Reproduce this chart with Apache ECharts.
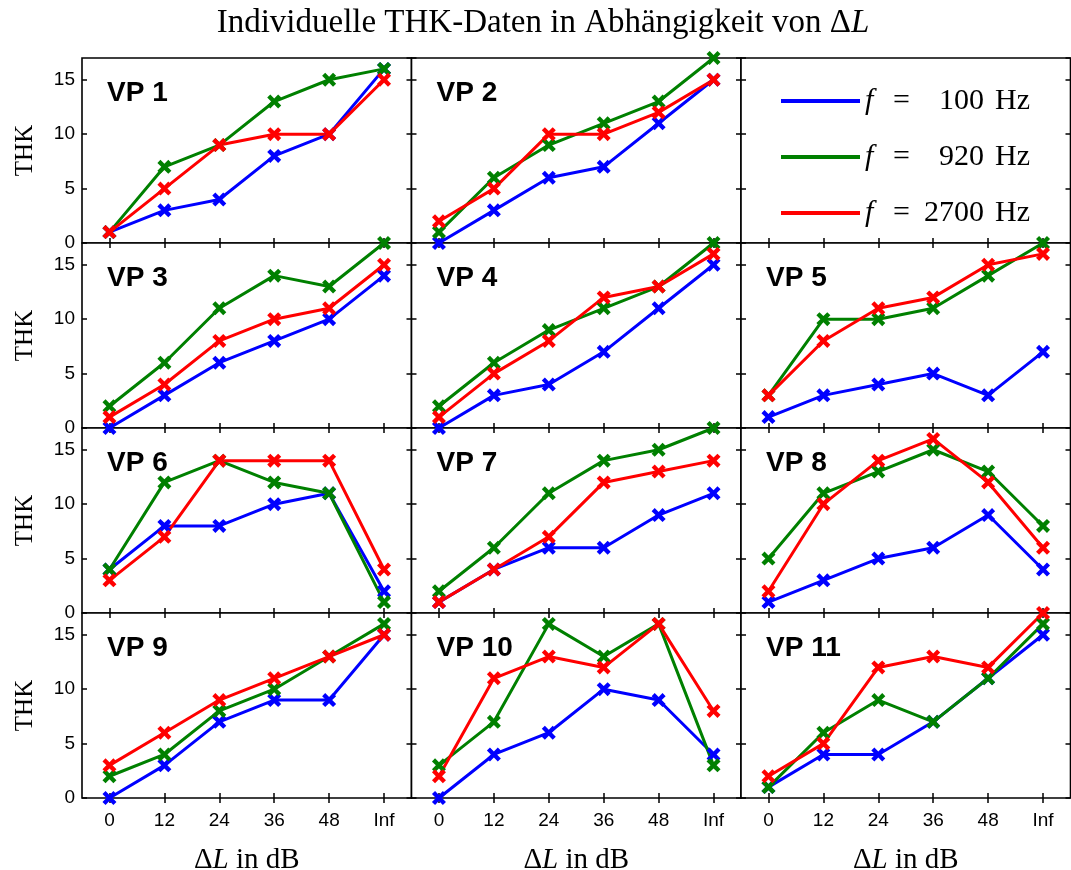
<!DOCTYPE html>
<html>
<head>
<meta charset="utf-8">
<title>Individuelle THK-Daten</title>
<script src="https://cdn.jsdelivr.net/npm/echarts@6/dist/echarts.min.js"></script>
<style>
  html, body { margin: 0; padding: 0; background: #fff; }
  #chart { width: 1071px; height: 870px; }
</style>
</head>
<body>
<div id="chart"></div>
<script>
// Level differences (x categories) and the three test frequencies
const categories = ['0', '12', '24', '36', '48', 'Inf'];
const freqs = ['100', '920', '2700'];
const subjects = ['VP 1', 'VP 2', 'VP 3', 'VP 4', 'VP 5', 'VP 6', 'VP 7', 'VP 8', 'VP 9', 'VP 10', 'VP 11'];
const yTicks = [0, 5, 10, 15];

// THK per subject, one array per frequency
const thk100 = [
  [1, 3, 4, 8, 10, 16],
  [0, 3, 6, 7, 11, 15],
  [0, 3, 6, 8, 10, 14],
  [0, 3, 4, 7, 11, 15],
  [1, 3, 4, 5, 3, 7],
  [4, 8, 8, 10, 11, 2],
  [1, 4, 6, 6, 9, 11],
  [1, 3, 5, 6, 9, 4],
  [0, 3, 7, 9, 9, 15],
  [0, 4, 6, 10, 9, 4],
  [1, 4, 4, 7, 11, 15]
];
const thk920 = [
  [1, 7, 9, 13, 15, 16],
  [1, 6, 9, 11, 13, 17],
  [2, 6, 11, 14, 13, 17],
  [2, 6, 9, 11, 13, 17],
  [3, 10, 10, 11, 14, 17],
  [4, 12, 14, 12, 11, 1],
  [2, 6, 11, 14, 15, 17],
  [5, 11, 13, 15, 13, 8],
  [2, 4, 8, 10, 13, 16],
  [3, 7, 16, 13, 16, 3],
  [1, 6, 9, 7, 11, 16]
];
const thk2700 = [
  [1, 5, 9, 10, 10, 15],
  [2, 5, 10, 10, 12, 15],
  [1, 4, 8, 10, 11, 15],
  [1, 5, 8, 12, 13, 16],
  [3, 8, 11, 12, 15, 16],
  [3, 7, 14, 14, 14, 4],
  [1, 4, 7, 12, 13, 14],
  [2, 10, 14, 16, 12, 6],
  [3, 6, 9, 11, 13, 15],
  [2, 11, 13, 12, 16, 8],
  [2, 5, 12, 13, 12, 17]
];

const seriesData = [thk100, thk920, thk2700];
const colors = ['#0000ff', '#008000', '#ff0000'];
const seriesNames = freqs.map(f => 'f = ' + f + ' Hz');

// panel layout: 4 rows x 3 columns, the third panel holds the legend
const nRows = 4, nCols = 3;
const gLeft = 82, gTop = 58, cellW = 329.5, cellH = 185;
const serif = '"Liberation Serif", "DejaVu Serif", serif';
const sans = '"Liberation Sans", Arial, sans-serif';

// x-shaped marker
const crossPath = 'path://M0,2.2L2.2,0L5,2.8L7.8,0L10,2.2L7.2,5L10,7.8L7.8,10L5,7.2L2.2,10L0,7.8L2.8,5Z';

const grids = [], xAxes = [], yAxes = [], series = [], graphics = [];
const tickStyle = { show: true, inside: true, length: 5, lineStyle: { color: '#000', width: 1.5 } };

for (let g = 0; g < nRows * nCols; g++) {
  const r = Math.floor(g / nCols), c = g % nCols;
  grids.push({
    left: gLeft + c * cellW, top: gTop + r * cellH, width: cellW, height: cellH,
    outerBoundsMode: 'none', containLabel: false,
    show: true, borderColor: '#000', borderWidth: 1.6, backgroundColor: '#fff'
  });
  const bottomRow = r === nRows - 1;
  xAxes.push({
    gridIndex: g, type: 'category', data: categories, boundaryGap: true, position: 'bottom',
    axisLine: { show: false },
    axisTick: Object.assign({ alignWithLabel: true }, tickStyle),
    axisLabel: { show: bottomRow, color: '#000', fontFamily: sans, fontSize: 19, margin: 13 },
    splitLine: { show: false },
    name: bottomRow ? '{d|Δ}{i|L}{d| in dB}' : '',
    nameLocation: 'middle', nameGap: 48,
    nameTextStyle: {
      rich: {
        d: { fontFamily: serif, fontSize: 29, color: '#000' },
        i: { fontFamily: serif, fontSize: 29, fontStyle: 'italic', color: '#000' }
      }
    }
  });
  xAxes.push({
    gridIndex: g, type: 'category', data: categories, boundaryGap: true, position: 'top',
    axisLine: { show: false },
    axisTick: Object.assign({ alignWithLabel: true }, tickStyle),
    axisLabel: { show: false }, splitLine: { show: false }
  });
  const leftCol = c === 0;
  yAxes.push({
    gridIndex: g, type: 'value', min: 0, max: 17, interval: 5, position: 'left',
    axisLine: { show: false }, axisTick: tickStyle, splitLine: { show: false },
    axisLabel: {
      show: leftCol, color: '#000', fontFamily: sans, fontSize: 19, margin: 7,
      showMaxLabel: false,
      formatter: v => (yTicks.indexOf(v) >= 0 ? String(v) : '')
    },
    name: leftCol ? 'THK' : '', nameLocation: 'middle', nameGap: 44,
    nameTextStyle: { fontFamily: serif, fontSize: 25, color: '#000' }
  });
  yAxes.push({
    gridIndex: g, type: 'value', min: 0, max: 17, interval: 5, position: 'right',
    axisLine: { show: false }, axisTick: tickStyle, splitLine: { show: false },
    axisLabel: { show: false }
  });
}

// data panels, skipping the legend slot
const panelGrid = [0, 1, 3, 4, 5, 6, 7, 8, 9, 10, 11];
subjects.forEach((name, p) => {
  const g = panelGrid[p];
  for (let k = 0; k < 3; k++) {
    series.push({
      name: seriesNames[k], type: 'line',
      xAxisIndex: 2 * g, yAxisIndex: 2 * g,
      data: seriesData[k][p],
      clip: false,
      symbol: crossPath, symbolSize: 14, symbolKeepAspect: true,
      lineStyle: { color: colors[k], width: 3 },
      itemStyle: { color: colors[k] },
      emphasis: { disabled: true },
      animation: false
    });
  }
  graphics.push({
    type: 'text',
    left: grids[g].left + 25, top: grids[g].top + 21,
    style: { text: name, font: 'bold 28px ' + sans, fill: '#000' },
    z: 100
  });
});

// legend text: frequency numbers right-aligned by padding shorter ones
const digitW = 15;
const legendRich = {
  f: { fontFamily: serif, fontSize: 30, fontStyle: 'italic', color: '#000', width: 28, align: 'left' },
  e: { fontFamily: serif, fontSize: 30, color: '#000', width: 31, align: 'left' },
  u: { fontFamily: serif, fontSize: 30, color: '#000', padding: [0, 0, 0, 11] }
};
for (let k = 0; k <= 2; k++) {
  legendRich['n' + k] = { fontFamily: serif, fontSize: 30, color: '#000', padding: [0, 0, 0, k * digitW] };
}

const chart = echarts.init(document.getElementById('chart'));
chart.setOption({
  animation: false,
  title: {
    text: '{t|Individuelle THK-Daten in Abhängigkeit von Δ}{i|L}',
    left: 538, textAlign: 'center', top: 2,
    textStyle: {
      fontWeight: 'normal',
      rich: {
        t: { fontFamily: serif, fontSize: 33, fontWeight: 'normal', color: '#000' },
        i: { fontFamily: serif, fontSize: 33, fontWeight: 'normal', fontStyle: 'italic', color: '#000' }
      }
    }
  },
  legend: {
    orient: 'vertical', left: 776, top: 81,
    icon: 'rect', itemWidth: 79, itemHeight: 4, itemGap: 26,
    data: seriesNames,
    formatter: name => {
      const f = freqs[seriesNames.indexOf(name)];
      return '{f|f}{e|=}{n' + (4 - f.length) + '|' + f + '}{u|Hz}';
    },
    textStyle: { color: '#000', lineHeight: 30, rich: legendRich },
    selectedMode: false
  },
  grid: grids,
  xAxis: xAxes,
  yAxis: yAxes,
  series: series,
  graphic: graphics
});
</script>
</body>
</html>
